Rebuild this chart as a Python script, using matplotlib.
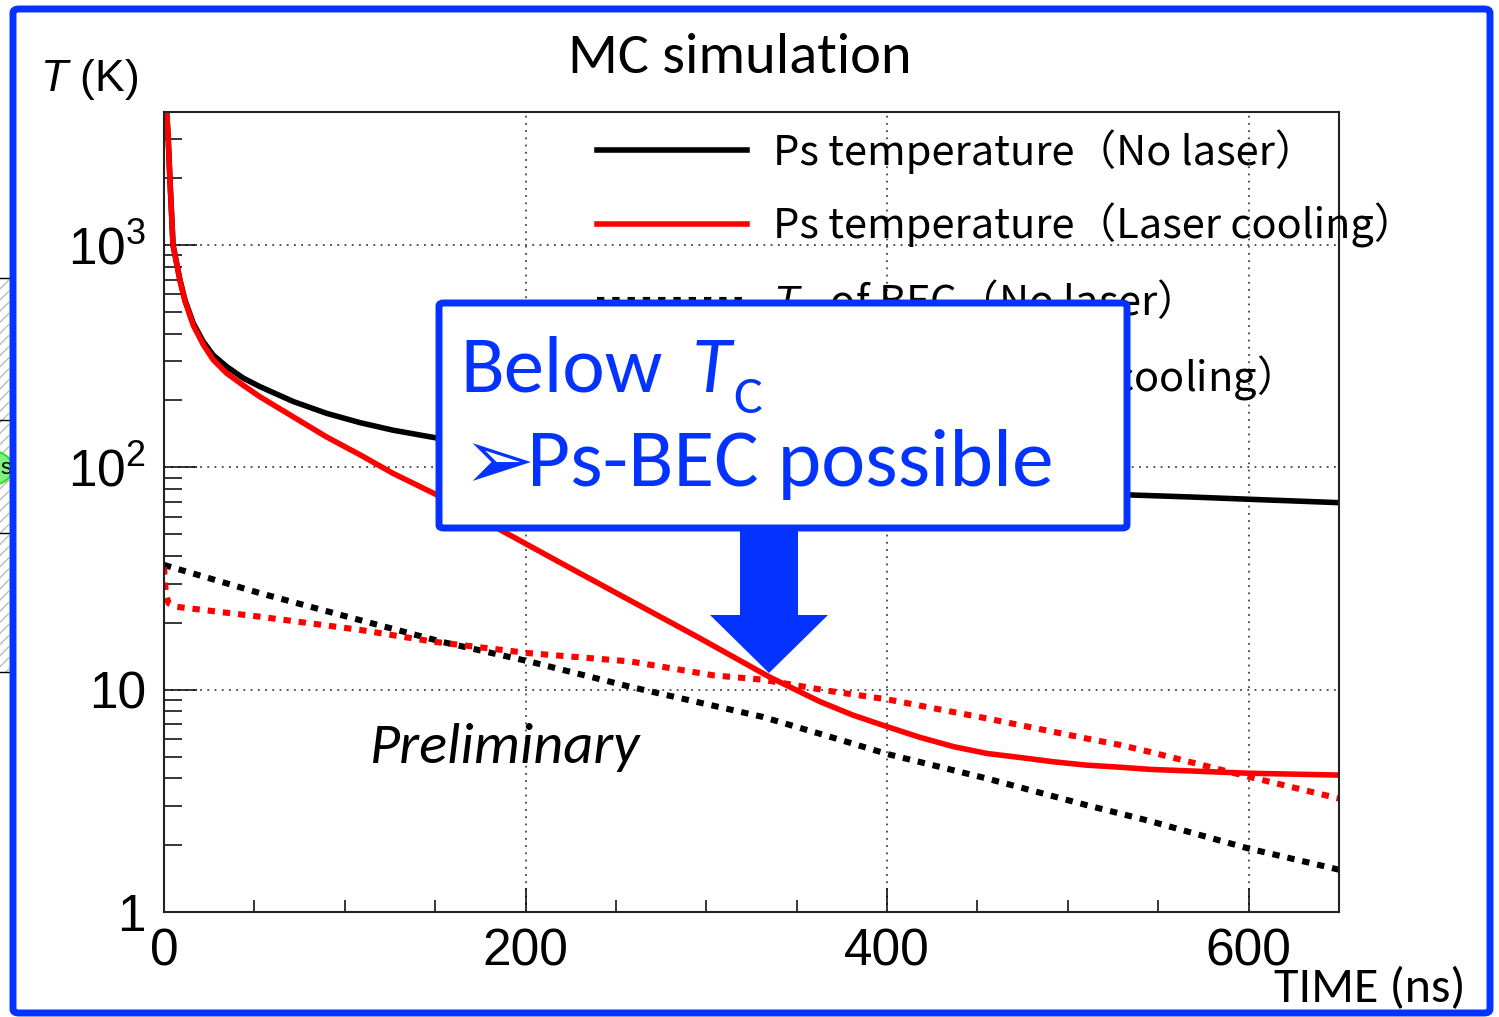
import matplotlib
matplotlib.use("Agg")
import matplotlib.pyplot as plt
from matplotlib.patches import Rectangle, FancyBboxPatch, Polygon, Circle
from matplotlib.ticker import FixedLocator, LogLocator, MultipleLocator, NullFormatter

plt.rcParams['mathtext.fontset'] = 'custom'
plt.rcParams['mathtext.rm'] = 'Liberation Sans'
plt.rcParams['mathtext.it'] = 'Liberation Sans:italic'

# --- data (the black curve under the callout box is estimated) ---
t_nolaser = [0.3, 1, 2.2, 3.3, 5, 8.85, 11.6, 16.2, 21.7, 27.2, 34.7, 43.9, 53, 71.4, 90,
             108.4, 126.7, 150, 200, 250, 300, 350, 400, 450, 500, 536, 568, 600, 650]
T_nolaser = [5000, 4500, 3190, 1960, 1000, 697, 566, 445, 368, 320, 284, 252, 231, 198, 175,
             159, 147, 136, 118.6, 105.7, 96.7, 89.9, 84.5, 80.4, 77.1, 75.1, 73.6, 71.9, 69.4]

t_laser = [0.3, 1, 2.2, 3.3, 5, 8.85, 11.6, 16.2, 21.7, 27.2, 34.7, 43.9, 53, 71.4, 90,
           108.4, 126.7, 150, 189.6, 220, 254, 295, 335, 363, 381, 400, 418, 437, 455,
           474, 492, 510, 529, 545.5, 600, 650]
T_laser = [5000, 4500, 3190, 1960, 1000, 690, 560, 435, 357, 305, 265, 234, 208, 169, 137,
           114, 94, 75.9, 50.5, 37.0, 26.2, 17.3, 11.4, 8.83, 7.69, 6.82, 6.11, 5.54, 5.17,
           4.95, 4.74, 4.58, 4.48, 4.38, 4.21, 4.13]

t_tc_nolaser = [0, 53, 108, 154, 202, 258, 331, 367, 400, 455, 510, 545, 600, 650]
T_tc_nolaser = [36.4, 27.2, 20.6, 16.4, 13.4, 10.3, 7.55, 6.19, 5.14, 3.99, 3.03, 2.57, 1.93, 1.55]

t_tc_laser = [0, 1, 2.5, 7, 53, 108, 150, 202, 258, 304, 331, 367, 400, 455, 510, 529, 545, 600, 650]
T_tc_laser = [35.5, 27, 24.5, 23.6, 21.3, 18.6, 16.4, 14.6, 13.4, 11.6, 11.1, 9.9, 9.05, 7.43,
              6.04, 5.64, 5.26, 4.06, 3.24]

labels = ['Ps temperature（No laser）',
          'Ps temperature（Laser cooling）',
          r'$\mathit{T}_{\mathrm{C}}$ of BEC（No laser）',
          r'$\mathit{T}_{\mathrm{C}}$ of BEC（Laser cooling）']

ytick_vals = [1, 10, 100, 1000]
ytick_labels = ['1', '10', r'$\mathregular{10^{2}}$', r'$\mathregular{10^{3}}$']
xtick_vals = [0, 200, 400, 600]

W, H = 1499, 1017
def fx(x):
    return x / W
def fy(y):
    return 1 - y / H

BLUE = '#0433FF'
slide_font = ['Carlito', 'Lato', 'DejaVu Sans']
root_font = ['Liberation Sans', 'DejaVu Sans']

fig = plt.figure(figsize=(W / 100, H / 100), dpi=100)
ax = fig.add_axes([fx(164), fy(912), 1175 / W, 800 / H])

dot = (0, (1.2, 1.3))
ax.plot(t_nolaser, T_nolaser, color='black', lw=4, label=labels[0])
ax.plot(t_laser, T_laser, color='red', lw=4, label=labels[1])
ax.plot(t_tc_nolaser, T_tc_nolaser, color='black', lw=4.4, ls=dot, label=labels[2])
ax.plot(t_tc_laser, T_tc_laser, color='red', lw=4.4, ls=dot, label=labels[3])

ax.set_yscale('log')
ax.set_xlim(0, 650)
ax.set_ylim(1, 10 ** (800 / 222.3))

ax.yaxis.set_major_locator(FixedLocator(ytick_vals))
ax.set_yticklabels(ytick_labels)
ax.yaxis.set_minor_locator(LogLocator(base=10, subs=range(2, 10)))
ax.yaxis.set_minor_formatter(NullFormatter())
ax.xaxis.set_major_locator(FixedLocator(xtick_vals))
ax.xaxis.set_minor_locator(MultipleLocator(50))

ax.tick_params(axis='y', which='major', direction='in', length=24, width=1.1, pad=13)
ax.tick_params(axis='y', which='minor', direction='in', length=13, width=1.1)
ax.tick_params(axis='x', which='major', direction='in', length=17, width=1.1, pad=11)
ax.tick_params(axis='x', which='minor', direction='in', length=9, width=1.1)
for lab in ax.get_xticklabels() + ax.get_yticklabels():
    lab.set_fontfamily(root_font)
    lab.set_fontsize(37)

ax.grid(True, which='major', color='#444444', ls=(0, (1, 3)), lw=1.3)
for s in ax.spines.values():
    s.set_linewidth(1.5)
    s.set_color('#222222')

leg = ax.legend(loc='upper left', bbox_to_anchor=(fx(597), fy(129)),
                bbox_transform=fig.transFigure, frameon=False, borderpad=0,
                borderaxespad=0, handlelength=3.6, handletextpad=0.62,
                labelspacing=0.7, prop={'family': ['Noto Sans CJK JP', 'DejaVu Sans'], 'size': 30})

# --- slide texts ---
fig.text(fx(740), fy(73), 'MC simulation', ha='center', va='baseline',
         fontsize=42, family=slide_font)
fig.text(fx(40), fy(91), r'$\mathit{T}$ (K)', ha='left', va='baseline',
         fontsize=32, family=root_font)
fig.text(fx(1274), fy(1002), 'TIME (ns)', ha='left', va='baseline',
         fontsize=36, family=slide_font)
fig.text(fx(370), fy(763), 'Preliminary', ha='left', va='baseline',
         fontsize=42, style='italic', family=slide_font)

# --- callout box and arrow ---
box = FancyBboxPatch((fx(439), fy(528)), fx(1127) - fx(439), fy(303) - fy(528),
                     boxstyle='round,pad=0,rounding_size=0.003', transform=fig.transFigure,
                     facecolor='white', edgecolor=BLUE, lw=5, zorder=10)
fig.add_artist(box)
arrow = Polygon([(fx(740), fy(531)), (fx(798), fy(531)), (fx(798), fy(615)), (fx(828), fy(615)),
                 (fx(769), fy(673)), (fx(710), fy(615)), (fx(740), fy(615))],
                closed=True, transform=fig.transFigure, facecolor=BLUE, edgecolor='none', zorder=10)
fig.add_artist(arrow)

fig.text(fx(460), fy(392), 'Below', ha='left', va='baseline', fontsize=58,
         color=BLUE, family=slide_font, zorder=11)
fig.text(fx(692), fy(392), 'T', ha='left', va='baseline', fontsize=58, style='italic',
         color=BLUE, family=slide_font, zorder=11)
fig.text(fx(733), fy(413), 'C', ha='left', va='baseline', fontsize=39,
         color=BLUE, family=slide_font, zorder=11)
fig.text(fx(462), fy(466), '➢', ha='left', va='center', fontsize=62,
         color=BLUE, family=['DejaVu Sans'], zorder=11)
fig.text(fx(527), fy(486), 'Ps-BEC possible', ha='left', va='baseline', fontsize=60,
         color=BLUE, family=slide_font, zorder=11)

# --- outer slide frame and cut-off neighbour on the left ---
frame = FancyBboxPatch((fx(13), fy(1013)), fx(1490) - fx(13), fy(9) - fy(1013),
                       boxstyle='round,pad=0,rounding_size=0.004', transform=fig.transFigure,
                       facecolor='none', edgecolor=BLUE, lw=5, zorder=12)
fig.add_artist(frame)
strip = Rectangle((0, fy(672)), fx(9), fy(278) - fy(672), transform=fig.transFigure,
                  facecolor='white', edgecolor='#BBBBBB', hatch='///', lw=0, zorder=1)
fig.add_artist(strip)
for yy in [278, 420, 533, 672]:
    fig.add_artist(plt.Line2D([0, fx(9)], [fy(yy), fy(yy)], transform=fig.transFigure,
                              color='black', lw=1))
fig.add_artist(Circle((fx(-14), fy(468)), 27 / W, transform=fig.transFigure,
                      facecolor='#80F080', edgecolor='#30E030', lw=1.5, zorder=2))
fig.text(fx(0), fy(468), 's', ha='left', va='center', fontsize=16, family=root_font, zorder=3)

fig.savefig('out.png', dpi=100)
